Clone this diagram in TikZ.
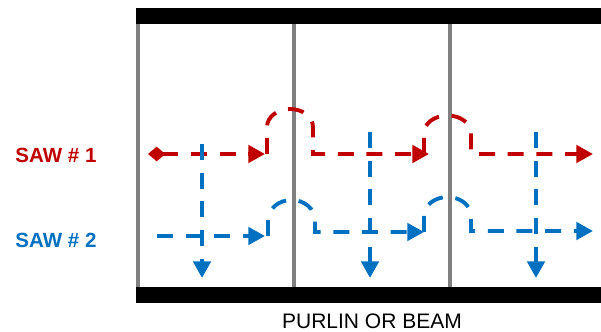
\documentclass[tikz,border=0pt]{standalone}
\usepackage{fontspec}
\setmainfont{Liberation Sans}
\usetikzlibrary{arrows.meta}
\definecolor{sawred}{HTML}{C00000}
\definecolor{sawblue}{HTML}{0070C0}
\begin{document}
\begin{tikzpicture}[x=0.75pt,y=0.75pt,inner sep=0pt,outer sep=0pt,
stud/.style={draw=gray,line width=2.6pt},
sawcut/.style={line width=2.9pt,dash pattern=on 12pt off 9.5pt},
redsaw/.style={sawcut,draw=sawred},
bluesaw/.style={sawcut,draw=sawblue},
endtip/.style={-{Triangle[length=12.5pt,width=13pt]}},
sawlabel/.style={font=\bfseries\fontsize{15.4pt}{18pt}\selectfont}]
\useasboundingbox (0,0) rectangle (601,332);
% beams and studs
\fill[black] (136,308) rectangle (601,324);
\fill[black] (136,29) rectangle (601,45);
\foreach \x in {138,294,450}
  \draw[stud] (\x,45) -- (\x,308);
% labels
\draw (56,177) node[sawlabel,text=sawred] (saw1) {SAW \# 1};
\draw (56,92) node[sawlabel,text=sawblue] (saw2) {SAW \# 2};
\draw (372,3) node[anchor=base,font=\fontsize{15.75pt}{18pt}\selectfont] (beam) {PURLIN OR BEAM};
% saw 1 points
\draw (148,178) coordinate (r0);
\draw (265,178) coordinate (r1);
\draw (267,178) coordinate (r2);
\draw (313,178) coordinate (r3);
\draw (429,178) coordinate (r4);
\draw (424,178) coordinate (r5);
\draw (471,178) coordinate (r6);
\draw (593,178) coordinate (r7);
% saw 2 points
\draw (157,96) coordinate (b0);
\draw (265,96) coordinate (b1);
\draw (268,96) coordinate (b2);
\draw (315,100) coordinate (b3);
\draw (424,100) coordinate (b4);
\draw (471,101) coordinate (b5);
\draw (593,101) coordinate (b6);
% saw 1
\draw[redsaw,{Diamond[length=13pt,width=11pt]}-{Triangle[length=12.5pt,width=13pt]}] (r0) -- (r1);
\draw[redsaw,endtip] (r2) -- ++(0,27) arc[start angle=180,end angle=0,x radius=23,y radius=18] -- (r3) -- (r4);
\draw[redsaw,endtip] (r5) -- ++(0,21) arc[start angle=180,end angle=0,x radius=23.5,y radius=17.5] -- (r6) -- (r7);
% saw 2
\draw[bluesaw,endtip] (b0) -- (b1);
\draw[bluesaw,endtip] (b2) -- ++(0,16) arc[start angle=180,end angle=0,x radius=23.5,y radius=20] -- (b3) -- (b4);
\draw[bluesaw,endtip] (b4) -- ++(0,16) arc[start angle=180,end angle=0,x radius=23.5,y radius=19] -- (b5) -- (b6);
\foreach \x/\y in {202/188,370/200,536/200}
  \draw[bluesaw,endtip] (\x,\y) -- (\x,54);
\end{tikzpicture}
\end{document}
